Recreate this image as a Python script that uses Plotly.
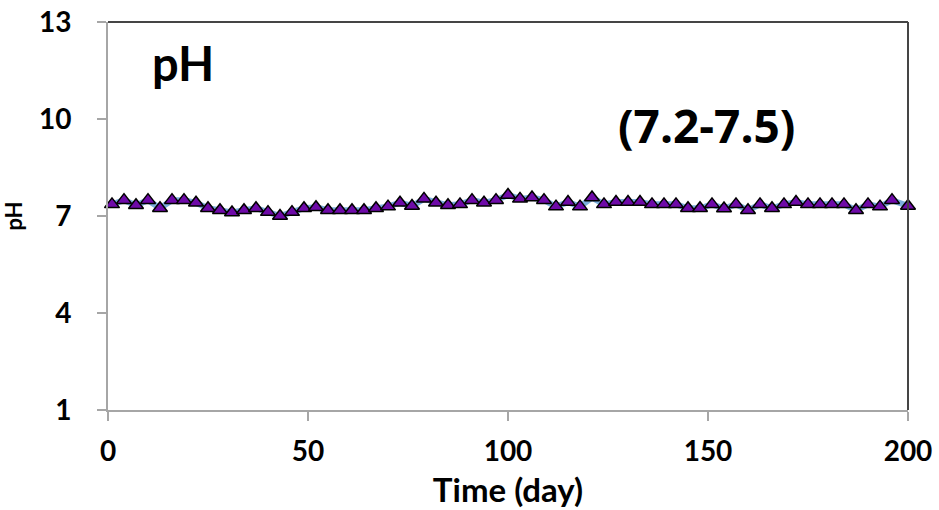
import plotly.graph_objects as go

# Data
days = [1, 4, 7, 10, 13, 16, 19, 22, 25, 28, 31, 34, 37, 40, 43, 46, 49, 52, 55, 58,
        61, 64, 67, 70, 73, 76, 79, 82, 85, 88, 91, 94, 97, 100, 103, 106, 109, 112, 115, 118,
        121, 124, 127, 130, 133, 136, 139, 142, 145, 148, 151, 154, 157, 160, 163, 166, 169, 172, 175, 178,
        181, 184, 187, 190, 193, 196, 200]
ph = [7.36, 7.49, 7.33, 7.49, 7.24, 7.49, 7.49, 7.41, 7.24, 7.18,
      7.11, 7.18, 7.24, 7.12, 7.00, 7.12, 7.24, 7.27, 7.18, 7.18,
      7.18, 7.18, 7.24, 7.29, 7.41, 7.31, 7.53, 7.41, 7.33, 7.36,
      7.49, 7.41, 7.49, 7.65, 7.53, 7.57, 7.49, 7.29, 7.43, 7.29,
      7.57, 7.36, 7.43, 7.43, 7.43, 7.36, 7.36, 7.36, 7.24, 7.24,
      7.36, 7.23, 7.36, 7.18, 7.36, 7.24, 7.36, 7.43, 7.36, 7.36,
      7.36, 7.36, 7.18, 7.36, 7.29, 7.49, 7.31]
x_ticks = [0, 50, 100, 150, 200]
y_ticks = [1, 4, 7, 10, 13]

FONT = "Lato, 'Open Sans', 'DejaVu Sans', sans-serif"

fig = go.Figure()
# soft blue connecting line
fig.add_trace(go.Scatter(x=days, y=ph, mode="lines",
                         line=dict(color="rgba(91,155,213,0.8)", width=6),
                         hoverinfo="skip", showlegend=False, cliponaxis=False))
fig.add_trace(go.Scatter(x=days, y=ph, mode="markers",
                         marker=dict(symbol="triangle-up", size=13, color="#6E0AA8",
                                     line=dict(color="black", width=1.5)),
                         showlegend=False, cliponaxis=False))

axis_common = dict(showgrid=False, zeroline=False, showline=True, automargin=False,
                   linecolor="#A6A6A6", linewidth=2,
                   ticks="outside", ticklen=9, tickwidth=2, tickcolor="#A6A6A6",
                   tickfont=dict(family=FONT, size=28, color="black", weight="bold"))

fig.update_xaxes(range=[0, 200], tickvals=x_ticks, ticklabelstandoff=6,
                 title=dict(text="Time (day)", standoff=13,
                            font=dict(family=FONT, size=33, color="black", weight="bold")),
                 **axis_common)
fig.update_yaxes(range=[1, 13], tickvals=y_ticks, ticklabelstandoff=20,
                 title=dict(text="pH", standoff=10,
                            font=dict(family=FONT, size=22, color="black", weight="bold")),
                 **axis_common)

# darker top and right frame lines
fig.add_shape(type="line", xref="paper", yref="paper", x0=0, x1=1, y0=1, y1=1,
              line=dict(color="#454545", width=2))
fig.add_shape(type="line", xref="paper", yref="paper", x0=1, x1=1, y0=0, y1=1,
              line=dict(color="#454545", width=2))

fig.add_annotation(xref="paper", yref="paper", x=0.053, y=0.895,
                   xanchor="left", yanchor="middle", showarrow=False, text="pH",
                   font=dict(family=FONT, size=47, color="black", weight="bold"))
fig.add_annotation(xref="paper", yref="paper", x=0.748, y=0.735,
                   xanchor="center", yanchor="middle", showarrow=False, text="(7.2-7.5)",
                   font=dict(family="'Open Sans', Lato, sans-serif", size=46, color="black", weight="bold"))

fig.update_layout(width=939, height=510, margin=dict(l=108, r=31, t=22, b=100),
                  paper_bgcolor="white", plot_bgcolor="white")

# remove the page's default body margin so the figure fills the window exactly
fig.write_html("out.html", config={"displayModeBar": False},
               post_script="document.body.style.margin='0';document.body.style.overflow='hidden';")
